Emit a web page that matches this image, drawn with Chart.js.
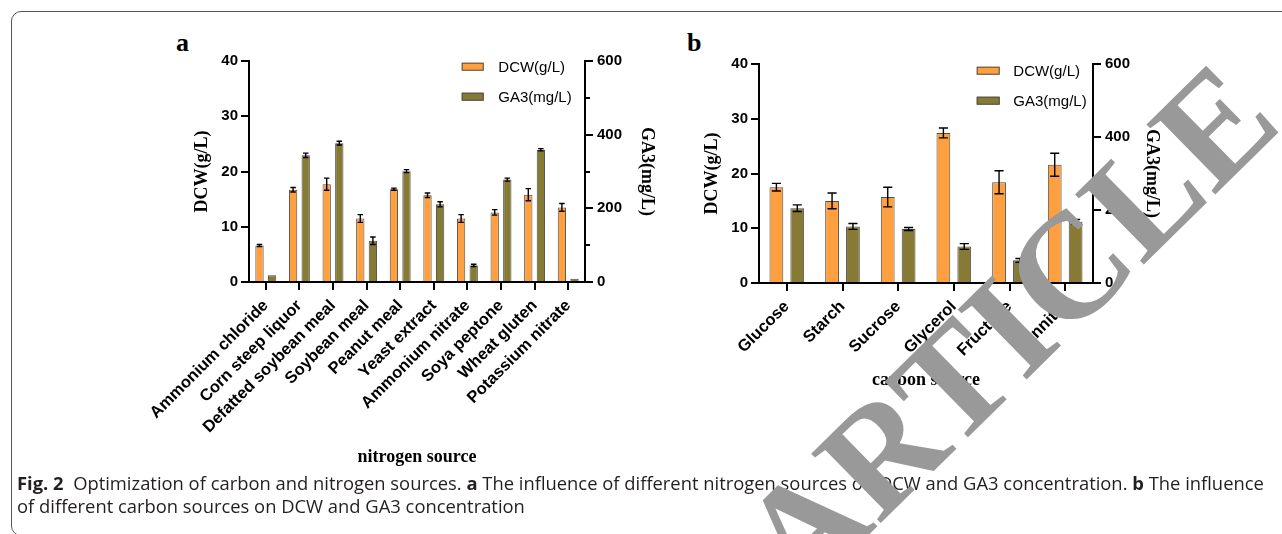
<!DOCTYPE html>
<html><head><meta charset="utf-8">
<script src="https://cdn.jsdelivr.net/npm/chart.js@4.4.1/dist/chart.umd.min.js"></script>
<style>
html,body{margin:0;padding:0;background:#fff;width:1282px;height:534px;overflow:hidden;}
body{position:relative;}
#frame{position:absolute;left:11px;top:11px;width:1300px;height:525px;border:1px solid #555;border-radius:10px;box-sizing:border-box;}
#wa{position:absolute;left:130px;top:30px;width:540px;height:450px;}
#wb{position:absolute;left:680px;top:30px;width:600px;height:450px;}
.plabel{position:absolute;font-family:"Liberation Serif","Times New Roman",serif;font-weight:bold;font-size:26px;line-height:1;color:#000;}
#caption{position:absolute;left:17px;top:471px;font-family:"Open Sans",sans-serif;font-size:15px;color:#231f20;white-space:nowrap;line-height:23px;}
#caption b{font-weight:700;}
#wm{position:absolute;left:0;top:0;pointer-events:none;}
</style>
</head><body>
<div id="frame"></div>
<div class="plabel" style="left:176px;top:30px;">a</div>
<div class="plabel" style="left:687px;top:30px;">b</div>
<div id="wa"><canvas id="ca" width="540" height="450"></canvas></div>
<div id="wb"><canvas id="cb" width="600" height="450"></canvas></div>
<div id="caption"><span id="l1"><b>Fig. 2</b>&nbsp; Optimization of carbon and nitrogen sources. <b>a</b> The influence of different nitrogen sources on DCW and GA3 concentration. <b>b</b> The influence</span><br><span id="l2">of different carbon sources on DCW and GA3 concentration</span></div>
<svg id="wm" width="1282" height="534"><text x="801" y="601.4" transform="rotate(-44.5 801 601.4)" font-family="Liberation Serif, Times New Roman, serif" font-weight="bold" font-size="150" fill="#999">ARTICLE</text></svg>
<script>
// ---- data: panel a (nitrogen sources) ----
const nitrogenLabels = ['Ammonium chloride','Corn steep liquor','Defatted soybean meal','Soybean meal','Peanut meal','Yeast extract','Ammonium nitrate','Soya peptone','Wheat gluten','Potassium nitrate'];
const nitrogenDCW    = [6.6, 16.7, 17.7, 11.5, 16.8, 15.7, 11.5, 12.6, 15.8, 13.5];
const nitrogenDCWErr = [0.2, 0.4, 1.1, 0.7, 0.2, 0.4, 0.7, 0.5, 1.1, 0.7];
const nitrogenGA3    = [18, 344, 377, 112, 301, 211, 45, 278, 359, 9];
const nitrogenGA3Err = [0, 6, 5, 10, 4, 7, 3, 4, 3, 0];
// ---- data: panel b (carbon sources) ----
const carbonLabels = ['Glucose','Starch','Sucrose','Glycerol','Fructose','Mannitol'];
const carbonDCW    = [17.5, 15.0, 15.7, 27.4, 18.4, 21.6];
const carbonDCWErr = [0.7, 1.45, 1.8, 0.9, 2.1, 2.1];
const carbonGA3    = [205, 155, 148, 100, 62, 168];
const carbonGA3Err = [9, 8, 4, 8, 5, 6];
// ---- axis ticks ----
const dcwTicks = [0, 10, 20, 30, 40];
const ga3Ticks = [0, 200, 400, 600];
const ga3MinorTicksA = [100, 300, 500];

const ORANGE = '#FFA040', OLIVE = '#877A35', EDGE = '#4d4d4d';
const tickFont = {family:'"Liberation Sans", Arial, sans-serif', weight:'bold', size:15};
const xTickFont = {family:'"Liberation Sans", Arial, sans-serif', weight:'bold', size:16.5};
const titleFont = {family:'"Liberation Serif", "Times New Roman", serif', weight:'bold', size:18};

const errorBars = {
  id:'errorBars',
  afterDatasetsDraw(chart){
    const ctx = chart.ctx;
    ctx.save();
    ctx.strokeStyle = '#000'; ctx.lineWidth = 1.4;
    chart.data.datasets.forEach((ds, i) => {
      const meta = chart.getDatasetMeta(i);
      const sc = chart.scales[ds.yAxisID];
      meta.data.forEach((el, j) => {
        const e = ds.errors[j]; if (!e) return;
        const v = ds.data[j];
        const yt = sc.getPixelForValue(v + e), yb = sc.getPixelForValue(Math.max(v - e, 0));
        const hw = el.width * 0.33;
        ctx.beginPath();
        ctx.moveTo(el.x, yt); ctx.lineTo(el.x, yb);
        ctx.moveTo(el.x - hw, yt); ctx.lineTo(el.x + hw, yt);
        ctx.moveTo(el.x - hw, yb); ctx.lineTo(el.x + hw, yb);
        ctx.stroke();
      });
    });
    ctx.restore();
  }
};

const boxLegend = {
  id:'boxLegend',
  afterDraw(chart, args, o){
    const ctx = chart.ctx, ca = chart.chartArea;
    ctx.save();
    chart.data.datasets.forEach((ds, i) => {
      const x = ca.right + o.dx, y = ca.top + o.dy + i * 30;
      ctx.fillStyle = ds.backgroundColor; ctx.fillRect(x, y, o.w, 8);
      ctx.strokeStyle = EDGE; ctx.lineWidth = 1; ctx.strokeRect(x + 0.5, y + 0.5, o.w - 1, 7);
      ctx.fillStyle = '#000';
      ctx.font = '15px "Liberation Sans", Arial, sans-serif';
      ctx.textBaseline = 'middle'; ctx.textAlign = 'left';
      ctx.fillText(ds.label, x + 36.6, y + 5);
    });
    ctx.restore();
  }
};

const minorTicks = {
  id:'minorTicks',
  afterDraw(chart, args, o){
    if (!o.values || !o.values.length) return;
    const s = chart.scales.y1, ctx = chart.ctx;
    ctx.save(); ctx.strokeStyle = '#000'; ctx.lineWidth = 2;
    o.values.forEach(v => {
      const y = Math.round(s.getPixelForValue(v));
      ctx.beginPath(); ctx.moveTo(s.left, y); ctx.lineTo(s.left + 5, y); ctx.stroke();
    });
    ctx.restore();
  }
};

function makeChart(id, labels, dcw, dcwErr, ga3, ga3Err, g){
  const axisGrid = {display:true, drawOnChartArea:false, tickLength:8, lineWidth:2, color:'#000'};
  const border = {display:true, width:2, color:'#000'};
  return new Chart(document.getElementById(id), {
    type:'bar',
    data:{labels:labels, datasets:[
      {label:'DCW(g/L)', data:dcw, errors:dcwErr, yAxisID:'y', backgroundColor:ORANGE, borderColor:EDGE, borderWidth:1, categoryPercentage:0.75, barPercentage:0.66},
      {label:'GA3(mg/L)', data:ga3, errors:ga3Err, yAxisID:'y1', backgroundColor:OLIVE, borderColor:EDGE, borderWidth:1, categoryPercentage:0.75, barPercentage:0.66}
    ]},
    options:{
      responsive:false, animation:false, devicePixelRatio:1,
      layout:{padding:{left:0, right:0, top:g.top, bottom:0}},
      plugins:{legend:{display:false}, tooltip:{enabled:false},
        boxLegend:{dx:g.legDx, dy:g.legDy, w:g.legW},
        minorTicks:{values:g.minor}},
      scales:{
        x:{
          grid:Object.assign({offset:false}, axisGrid), border:border,
          ticks:{font:xTickFont, color:'#000', maxRotation:45, minRotation:45, padding:6, autoSkip:false},
          title:{display:true, text:g.xTitle, font:titleFont, color:'#000', padding:{top:0, bottom:g.xTitlePad}},
          afterFit(s){ s.height = g.xH; }
        },
        y:{
          position:'left', min:0, max:40,
          afterBuildTicks(s){ s.ticks = dcwTicks.map(v => ({value:v})); },
          ticks:{font:tickFont, color:'#000', padding:3},
          grid:axisGrid, border:border,
          title:{display:true, text:'DCW(g/L)', font:titleFont, color:'#000', padding:{top:g.yTitlePad, bottom:0}},
          afterFit(s){ s.width = g.yW; }
        },
        y1:{
          position:'right', min:0, max:600,
          afterBuildTicks(s){ s.ticks = ga3Ticks.map(v => ({value:v})); },
          ticks:{font:tickFont, color:'#000', padding:4},
          grid:axisGrid, border:border,
          title:{display:true, text:'GA3(mg/L)', font:titleFont, color:'#000', padding:{top:g.y1TitlePad, bottom:0}},
          afterFit(s){ s.width = g.y1W; }
        }
      }
    },
    plugins:[errorBars, boxLegend, minorTicks]
  });
}

function fitCaption(){
  const cap = document.getElementById('caption');
  const l1 = document.getElementById('l1');
  const w = l1.getBoundingClientRect().width;
  const fs = 15 * 1248 / w;
  cap.style.fontSize = fs.toFixed(2) + 'px';
}

function draw(){
  fitCaption();
  makeChart('ca', nitrogenLabels, nitrogenDCW, nitrogenDCWErr, nitrogenGA3, nitrogenGA3Err,
    {top:31, yW:119, y1W:85, xH:198, yTitlePad:62, y1TitlePad:13, xTitlePad:12, xTitle:'nitrogen source',
     legDx:-123.3, legDy:1.7, legW:22, minor:ga3MinorTicksA});
  makeChart('cb', carbonLabels, carbonDCW, carbonDCWErr, carbonGA3, carbonGA3Err,
    {top:34, yW:79, y1W:187, xH:197, yTitlePad:21.7, y1TitlePad:118, xTitlePad:89, xTitle:'carbon source',
     legDx:-116.3, legDy:2.7, legW:23, minor:[]});
}
if (document.fonts && document.fonts.ready) { document.fonts.ready.then(draw); } else { draw(); }
</script>
</body></html>
